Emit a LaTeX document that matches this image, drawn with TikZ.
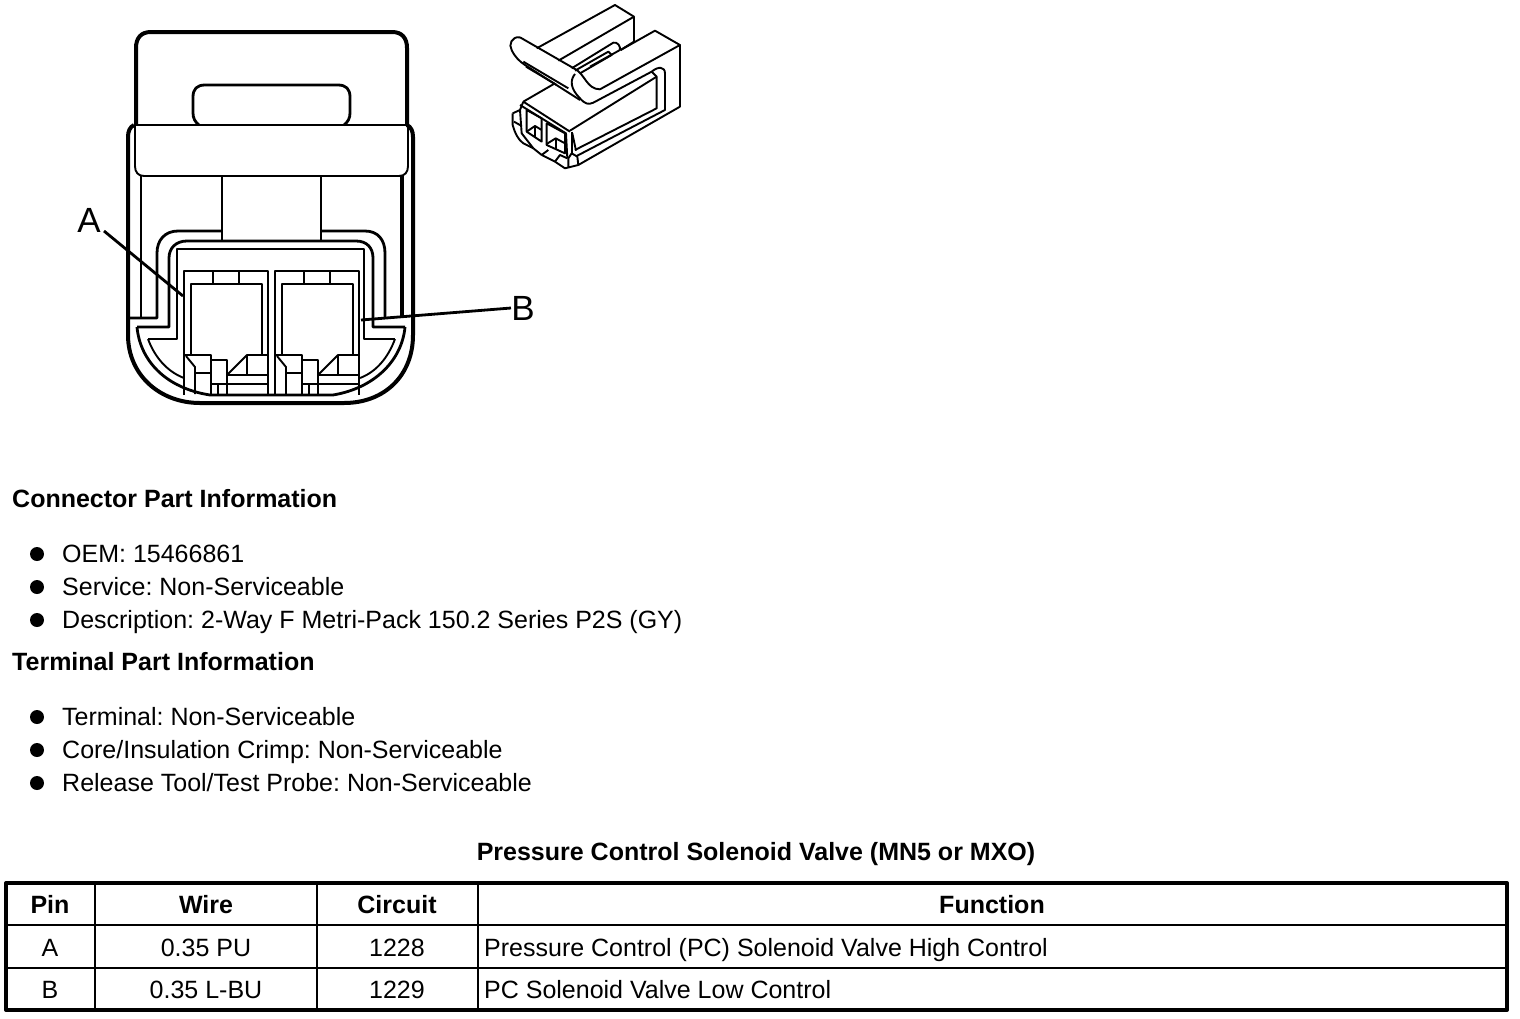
\documentclass[tikz,border=0pt]{standalone}
\usepackage{fontspec}
\setmainfont{Liberation Sans}
\frenchspacing
\tikzset{
	txt/.style={
		anchor=base west,
		inner sep=0pt,
		font=\fontsize{25}{28}\selectfont
	},
	hdr/.style={
		txt,
		font=\fontsize{25}{28}\selectfont\bfseries
	},
	cell/.style={
		txt,
		anchor=base
	},
	hcell/.style={
		hdr,
		anchor=base
	},
	tag/.style={
		inner sep=0pt,
		font=\fontsize{35}{40}\selectfont
	},
	dot/.style={
		circle,
		fill=black,
		inner sep=0pt,
		minimum size=14pt
	}
}

\begin{document}
\begin{tikzpicture}[x=1pt,y=-1pt]
			\tikzstyle{heavy}=[line width=4pt, line join=round]
			\tikzstyle{mid}=[line width=2.8pt, line join=round]
			\tikzstyle{fine}=[line width=1.9pt, line join=round]
			\tikzstyle{iso}=[line width=1.9pt, line join=round]
			\useasboundingbox (0,0) rectangle (1520,1018);
			
			% connector, front view
			\draw[heavy] (136,125) -- (136,48) .. controls (136,38) and (141,32) .. (151,32) -- (392,32) .. controls (402,32) and (407,38) .. (407,48) -- (407,125);
			\draw[mid] (199,125) .. controls (195,122) and (193,118) .. (193,113) -- (193,97) .. controls (193,89) and (197,85) .. (205,85) -- (338,85) .. controls (346,85) and (350,89) .. (350,97) -- (350,113) .. controls (350,118) and (348,122) .. (344,125);
			\draw[heavy] (134,125) .. controls (130,127) and (128,131) .. (128,137) -- (128,335) .. controls (128,375) and (160,403) .. (200,403) -- (344,403) .. controls (385,403) and (413,375) .. (413,335) -- (413,137) .. controls (413,131) and (411,127) .. (407,125);
			\draw[fine] (135,125) -- (408,125) -- (408,166) .. controls (408,172) and (405,176) .. (399,176) -- (144,176) .. controls (138,176) and (135,172) .. (135,166) -- cycle;
			\draw[fine] (141,176) -- (141,318);
			\draw[heavy] (402,176) -- (402,318);
			\draw[mid] (222,176) -- (222,241);
			\draw[fine] (321,176) -- (321,241);
			
			% shell contours
			\draw[mid] (128,318) -- (157,318) -- (157,253) .. controls (157,240) and (165,231) .. (178,231) -- (221,231);
			\draw[mid] (322,231) -- (365,231) .. controls (378,231) and (385,240) .. (385,253) -- (385,318);
			\draw[mid] (137,327) -- (169,327) -- (169,258) .. controls (169,248) and (176,241) .. (187,241) -- (356,241) .. controls (367,241) and (373,248) .. (373,258) -- (373,327) -- (405,327);
			\draw[mid] (137,327) .. controls (140,360) and (165,388) .. (210,395) -- (333,395) .. controls (375,388) and (402,360) .. (405,327);
			\draw[mid] (148,339) -- (177,339) -- (177,249) -- (364,249) -- (364,339) -- (395,339);
			\draw[fine] (148,339) .. controls (155,358) and (168,372) .. (184,378);
			\draw[fine] (360,378) .. controls (376,372) and (388,358) .. (395,339);
			
			% cavities
			\foreach \dx in {0,91}{
				\begin{scope}[shift={(\dx,0)}]
					\draw[mid] (184,395) -- (184,271) -- (268,271) -- (268,395);
					\draw[mid] (191,355) -- (191,284) -- (262,284) -- (262,355);
					\draw[fine] (213,271) -- (213,284);
					\draw[mid] (239,271) -- (239,284);
					\draw[mid] (185,355) -- (211,355) -- (211,394);
					\draw[fine] (186,356) -- (195,367) -- (195,394);
					\draw[fine] (195,373) -- (211,373);
					\draw[mid] (211,360) -- (227,360) -- (227,395);
					\draw[mid] (211,384) -- (268,384);
					\draw[mid] (218,384) -- (218,395);
					\draw[fine] (227,375) -- (247,355) -- (268,355);
					\draw[fine] (247,355) -- (247,375);
					\draw[mid] (227,375) -- (268,375);
				\end{scope}
			}
			
			% pin labels
			\node[tag] (pinA) at (89,220) {A};
			\node[tag] (pinB) at (523,308) {B};
			\coordinate (endA) at (183,296);
			\coordinate (endB) at (361,320);
			\draw[mid] (pinA) ++(15,11) -- (endA);
			\draw[mid] (pinB) ++(-12,0) -- (endB);
			
			% connector, isometric view
			\begin{scope}[shift={(490,0)},x=0.3333pt,y=-0.3333pt]
				\draw[iso] (140,145) -- (375,15) -- (432,50) -- (432,125) -- (392,150);
				\draw[iso] (205,182) -- (432,50);
				\draw[iso] (245,205) -- (370,128) .. controls (382,125) and (392,138) .. (390,150) -- (300,200);
				\draw[iso] (255,212) -- (355,155) -- (365,165) -- (270,220);
				\draw[iso] (90,112) -- (255,207) .. controls (285,222) and (290,268) .. (330,268) -- (570,135) -- (495,92) -- (392,150);
				\draw[iso] (90,112) .. controls (65,108) and (55,135) .. (65,150) .. controls (75,172) and (90,185) .. (105,195) -- (270,300);
				\draw[iso] (100,185) -- (235,265);
				\draw[iso] (108,200) -- (200,255);
				\draw[iso] (255,222) .. controls (240,240) and (240,265) .. (270,295) .. controls (285,312) and (295,315) .. (310,308) -- (485,215) .. controls (505,198) and (525,200) .. (525,220) -- (525,330) -- (260,468);
				\draw[iso] (570,135) -- (570,320) -- (265,495);
				\draw[iso] (485,215) -- (500,230) -- (500,325) -- (255,450);
				\draw[iso] (240,392) -- (500,230);
				\draw[iso] (247,400) -- (258,452);
				\draw[iso] (100,305) -- (195,250);
				\draw[iso] (100,305) -- (240,395);
				\draw[iso] (245,395) -- (245,465);
				\draw[iso] (90,330) -- (100,305);
				\draw[iso] (90,330) -- (95,400) -- (130,445);
				\draw[iso] (90,315) -- (228,400) -- (232,475);
				\draw[iso] (110,330) -- (155,355) -- (155,425) -- (110,395) -- cycle;
				\draw[iso] (170,370) -- (225,400) -- (225,460) -- (170,435) -- cycle;
				\draw[iso] (110,395) -- (135,378) -- (155,390);
				\draw[iso] (135,378) -- (135,410);
				\draw[iso] (170,432) -- (197,415) -- (225,430);
				\draw[iso] (197,415) -- (197,448);
				\draw[iso] (68,340) -- (68,375) .. controls (75,400) and (85,420) .. (100,430) -- (130,445);
				\draw[iso] (68,340) -- (90,330);
				\draw[iso] (72,365) -- (95,378);
				\draw[iso] (130,445) -- (155,465) -- (175,450);
				\draw[iso] (195,485) -- (225,505) -- (265,495) -- (262,470) -- (245,460) -- (235,475) -- (235,505);
				\draw[iso] (195,485) -- (210,465) -- (232,475);
				\draw[iso] (155,465) -- (195,485);
			\end{scope}
			
			% part information
			\node[hdr] (conninfo) at (12,507) {Connector Part Information};
			\node[dot] (d1) at (37,554) {};
			\node[txt] (oem) at (62,562) {OEM: 15466861};
			\node[dot] (d2) at (37,587) {};
			\node[txt] (service) at (62,595) {Service: Non-Serviceable};
			\node[dot] (d3) at (37,620) {};
			\node[txt] (descr) at (62,628) {Description: 2-Way F Metri-Pack 150.2 Series P2S (GY)};
			\node[hdr] (terminfo) at (12,670) {Terminal Part Information};
			\node[dot] (d4) at (37,717) {};
			\node[txt] (term) at (62,725) {Terminal: Non-Serviceable};
			\node[dot] (d5) at (37,750) {};
			\node[txt] (crimp) at (62,758) {Core/Insulation Crimp: Non-Serviceable};
			\node[dot] (d6) at (37,783) {};
			\node[txt] (tool) at (62,791) {Release Tool/Test Probe: Non-Serviceable};
			
			% table
			\node[hcell] (title) at (756,860) {Pressure Control Solenoid Valve (MN5 or MXO)};
			\draw[heavy] (6,883) rectangle (1507,1010);
			\draw[mid] (6,925) -- (1507,925);
			\draw[mid] (6,968) -- (1507,968);
			\draw[mid] (95,883) -- (95,1010);
			\draw[fine] (317,883) -- (317,1010);
			\draw[mid] (478,883) -- (478,1010);
			\node[hcell] (hpin) at (50,913) {Pin};
			\node[hcell] (hwire) at (206,913) {Wire};
			\node[hcell] (hcirc) at (397,913) {Circuit};
			\node[hcell] (hfunc) at (992,913) {Function};
			\node[cell] (pa) at (50,956) {A};
			\node[cell] (wa) at (206,956) {0.35 PU};
			\node[cell] (ca) at (397,956) {1228};
			\node[txt] (fa) at (484,956) {Pressure Control (PC) Solenoid Valve High Control};
			\node[cell] (pb) at (50,998) {B};
			\node[cell] (wb) at (206,998) {0.35 L-BU};
			\node[cell] (cb) at (397,998) {1229};
			\node[txt] (fb) at (484,998) {PC Solenoid Valve Low Control};
			\end{tikzpicture}
\end{document}
